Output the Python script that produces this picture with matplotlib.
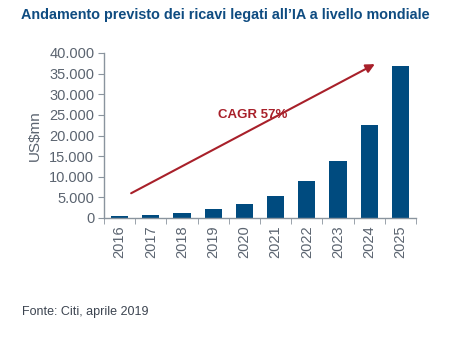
import matplotlib.pyplot as plt
import matplotlib.ticker as mticker

# Dati
anni = ["2016", "2017", "2018", "2019", "2020", "2021", "2022", "2023", "2024", "2025"]
ricavi = [600, 800, 1200, 2300, 3400, 5400, 9000, 13900, 22500, 36900]
y_ticks = [0, 5000, 10000, 15000, 20000, 25000, 30000, 35000, 40000]

titolo = "Andamento previsto dei ricavi legati all\u2019IA a livello mondiale"
fonte = "Fonte: Citi, aprile 2019"
cagr = "CAGR 57%"

BLU = "#004b7f"
GRIGIO = "#5b6470"
ASSE = "#8a949e"
ROSSO = "#a8202a"

plt.rcParams['font.family'] = ['Liberation Sans', 'DejaVu Sans']

fig = plt.figure(figsize=(4.5, 3.55), dpi=100)
ax = fig.add_axes([104 / 450, 1 - 218 / 355, (416 - 104) / 450, (218 - 53) / 355])

x = list(range(len(anni)))
ax.bar(x, ricavi, width=0.55, color=BLU, zorder=2)

ax.set_xlim(-0.5, len(anni) - 0.5)
ax.set_ylim(0, 40000)
ax.set_yticks(y_ticks)
ax.yaxis.set_major_formatter(mticker.FuncFormatter(lambda v, p: f"{int(v):,}".replace(",", ".")))
ax.set_xticks(x)
ax.set_xticklabels(anni, rotation=90)
ax.set_xticks([i - 0.5 for i in range(len(anni) + 1)], minor=True)
ax.tick_params(axis='x', which='major', length=0, pad=5, labelsize=10.5, labelcolor=GRIGIO)
ax.tick_params(axis='x', which='minor', length=4, color=ASSE, direction='out')
ax.tick_params(axis='y', length=4, color=ASSE, labelsize=10.5, labelcolor=GRIGIO, pad=3)

for s in ['top', 'right']:
    ax.spines[s].set_visible(False)
for s in ['left', 'bottom']:
    ax.spines[s].set_color(ASSE)
    ax.spines[s].set_linewidth(1.0)

ax.set_ylabel("US$mn", color=GRIGIO, fontsize=11, labelpad=5)

ax.annotate("", xy=(8.18, 37300), xytext=(0.37, 6000),
            arrowprops=dict(arrowstyle="-|>", color=ROSSO, lw=1.5,
                            mutation_scale=13, shrinkA=0, shrinkB=0),
            zorder=3)
ax.text(4.25, 25000, cagr, color=ROSSO, fontsize=9.5, fontweight='bold',
        ha='center', va='center', zorder=4)

fig.text(0.5, 1 - 15 / 355, titolo, color="#0f4c81", fontsize=10.4,
         fontweight='bold', ha='center', va='center')
fig.text(22 / 450, 1 - 312 / 355, fonte, color="#3c4450", fontsize=9,
         ha='left', va='center')

fig.savefig("out.png", dpi=100)
